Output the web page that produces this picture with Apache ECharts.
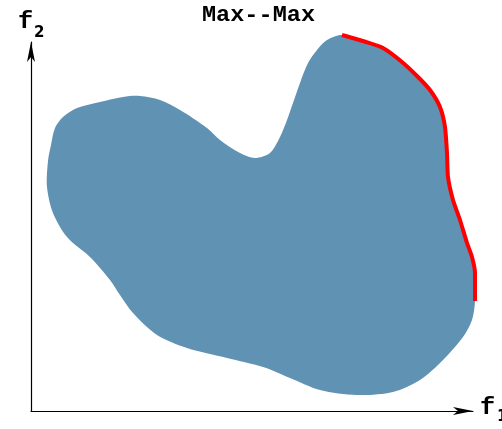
<!DOCTYPE html>
<html>
<head>
<meta charset="utf-8">
<script src="https://cdn.jsdelivr.net/npm/echarts@6/dist/echarts.min.js"></script>
<style>html,body{margin:0;padding:0;background:#fff;}#c{width:502px;height:429px;}</style>
</head>
<body>
<div id="c"></div>
<script>
// Objective-space region outline (f1, f2), traced clockwise from the top
const blobF1 = [311,335,352,371,387,399,409,414,416,417,422,429,436,441,444,444,
  441,432,412,389,362,326,289,259,232,196,156,126,102,89,79,59,36,22,16,17,20,24,32,46,69,92,109,129,149,176,189,209,224,239,249,256,262,269,277,286,296];
const blobF2 = [376,369,363,349,334,321,304,284,258,234,211,191,168,154,138,110,
  91,74,51,31,19,16,21,33,44,53,63,76,98,116,131,154,174,198,224,250,266,283,294,303,309,314,315,311,301,283,271,258,253,258,274,291,308,328,348,361,371];
// Pareto front (Max--Max): upper-right boundary
const frontF1 = [311,335,352,371,387,399,409,414,416,417,422,429,436,441,444,444];
const frontF2 = [376,369,363,349,334,321,304,284,258,234,211,191,168,154,138,110];
const titleText = 'Max--Max';

const chart = echarts.init(document.getElementById('c'), null, {renderer: 'canvas'});
const hidden = {show: false};
const arrowLine = {
  show: true, onZero: false,
  symbol: ['none', 'arrow'], symbolSize: [6, 20],
  lineStyle: {color: '#000', width: 1.2}
};
chart.setOption({
  animation: false,
  backgroundColor: '#fff',
  grid: [
    // data grid (f1 0..445, f2 0..377)
    {left: 31, right: 26, top: 34, bottom: 18},
    // visible axes with arrow heads
    {left: 31, right: 29, top: 42, bottom: 18}
  ],
  xAxis: [
    {gridIndex: 0, type: 'value', min: 0, max: 445, axisLine: hidden,
      axisTick: hidden, axisLabel: hidden, splitLine: hidden},
    {gridIndex: 1, type: 'value', min: 0, max: 1, axisLine: arrowLine,
      axisTick: hidden, axisLabel: hidden, splitLine: hidden}
  ],
  yAxis: [
    {gridIndex: 0, type: 'value', min: 0, max: 377, axisLine: hidden,
      axisTick: hidden, axisLabel: hidden, splitLine: hidden},
    {gridIndex: 1, type: 'value', min: 0, max: 1, axisLine: arrowLine,
      axisTick: hidden, axisLabel: hidden, splitLine: hidden}
  ],
  series: [
    {
      type: 'custom',
      xAxisIndex: 0, yAxisIndex: 0,
      clip: false,
      data: [[0, 0]],
      renderItem: function (params, api) {
        const pts = blobF1.map((x, i) => api.coord([x, blobF2[i]]));
        return {
          type: 'polygon',
          shape: {points: pts, smooth: 0.3},
          style: {fill: '#6092b4', stroke: null}
        };
      },
      z: 2
    },
    {
      type: 'line',
      xAxisIndex: 0, yAxisIndex: 0,
      clip: false,
      data: frontF1.map((x, i) => [x, frontF2[i]]),
      showSymbol: false,
      smooth: 0.2,
      lineStyle: {color: '#ff0000', width: 4},
      z: 3
    }
  ],
  graphic: [
    {type: 'text', x: 258.5, y: 15, scaleX: 1.07,
      style: {text: titleText, font: 'bold 22px "Liberation Mono"', fill: '#000', align: 'center', verticalAlign: 'middle'}},
    {type: 'text', x: 18, y: 22, scaleX: 1.1,
      style: {text: 'f', font: 'bold 23px "Liberation Mono"', fill: '#000', align: 'left', verticalAlign: 'middle'}},
    {type: 'text', x: 34, y: 33,
      style: {text: '2', font: 'bold 15px "DejaVu Sans"', fill: '#000', align: 'left', verticalAlign: 'middle'}},
    {type: 'text', x: 480, y: 408, scaleX: 1.1,
      style: {text: 'f', font: 'bold 23px "Liberation Mono"', fill: '#000', align: 'left', verticalAlign: 'middle'}},
    {type: 'text', x: 497, y: 417,
      style: {text: '1', font: 'bold 15px "DejaVu Sans"', fill: '#000', align: 'left', verticalAlign: 'middle'}}
  ]
});
</script>
</body>
</html>
